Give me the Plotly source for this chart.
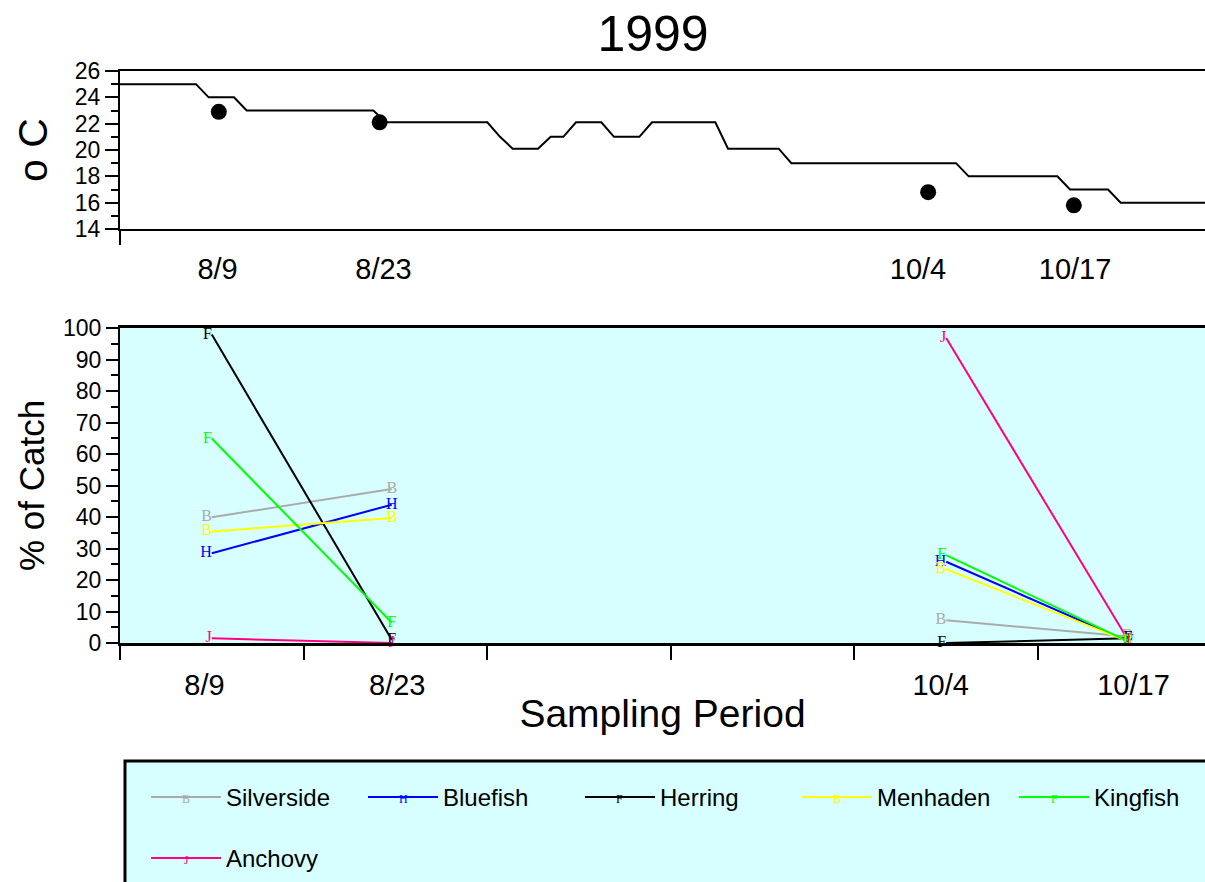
import plotly.graph_objects as go

# ---------------- data ----------------
# daily water temperature (deg C), one value per day starting at day 0 of the axis
temps = [25, 25, 25, 25, 25, 25, 25,
         24, 24, 24,
         23, 23, 23, 23, 23, 23, 23, 23, 23, 23, 23,
         22.1, 22.1, 22.1, 22.1, 22.1, 22.1, 22.1, 22.1, 22.1,
         21,
         20.1, 20.1, 20.1,
         21, 21,
         22.1, 22.1, 22.1,
         21, 21, 21,
         22.1, 22.1, 22.1, 22.1, 22.1, 22.1,
         20.1, 20.1, 20.1, 20.1, 20.1,
         19, 19, 19, 19, 19, 19, 19, 19, 19, 19, 19, 19, 19, 19,
         18, 18, 18, 18, 18, 18, 18, 18,
         17, 17, 17, 17,
         16, 16, 16, 16, 16, 16, 16, 16]
temp_days = list(range(len(temps)))

sample_labels = ["8/9", "8/23", "10/4", "10/17"]
sample_days = [7.8, 20.5, 63.8, 75.3]          # position of samples on the temperature axis
sample_temps = [22.9, 22.1, 16.8, 15.8]
top_label_pos = [7.7, 20.8, 63.0, 75.4]

period_pos = [0.5, 1.48, 4.5, 5.49]            # sampling periods on the catch axis
period_label_pos = [0.46, 1.51, 4.47, 5.52]

species = ["Silverside", "Bluefish", "Herring", "Menhaden", "Kingfish", "Anchovy"]
letters = ["B", "H", "F", "B", "F", "J"]
colors = ["#AAAAAA", "#0000FF", "#000000", "#FFFF00", "#00FF00", "#FF0080"]
silverside = [39.9, 48.9, 7.2, 2.1]
bluefish = [28.5, 43.9, 25.8, 0.5]
herring = [97.9, 1.0, 0.0, 1.5]
menhaden = [35.4, 39.7, 23.4, 0.5]
kingfish = [64.9, 6.5, 27.9, 0.5]
anchovy = [1.5, 0.0, 96.8, 1.0]
catch = [silverside, bluefish, herring, menhaden, kingfish, anchovy]

# ---------------- layout helpers ----------------
W, H = 1205, 882
FONT = "Liberation Sans, Arial, sans-serif"
SERIF = "Liberation Serif, Times New Roman, serif"
CYAN = "#D8FFFF"


def fx(p):
    return p / W


def fy(p):
    return 1 - p / H


fig = go.Figure()

# temperature line and sample points
fig.add_trace(go.Scatter(x=temp_days, y=temps, mode="lines",
                         line=dict(color="black", width=2),
                         xaxis="x", yaxis="y", showlegend=False, hoverinfo="skip"))
fig.add_trace(go.Scatter(x=sample_days, y=sample_temps, mode="markers",
                         marker=dict(color="black", size=16),
                         xaxis="x", yaxis="y", showlegend=False))

# catch lines (gap between the two sampling pairs)
for name, letter, col, vals in zip(species, letters, colors, catch):
    xs = period_pos[:2] + [None] + period_pos[2:]
    ys = vals[:2] + [None] + vals[2:]
    fig.add_trace(go.Scatter(x=xs, y=ys, mode="lines", name=name,
                             line=dict(color=col, width=2),
                             xaxis="x2", yaxis="y2",
                             legend="legend" if name != "Anchovy" else "legend2"))
letter_pos = ["middle left", "middle center", "middle left", "middle center"]
for name, letter, col, vals in zip(species, letters, colors, catch):
    fig.add_trace(go.Scatter(x=period_pos, y=vals, mode="text",
                             text=[letter] * len(vals), textposition=letter_pos,
                             textfont=dict(family=SERIF, size=16, color=col),
                             cliponaxis=False,
                             xaxis="x2", yaxis="y2", showlegend=False, hoverinfo="skip"))

x_dom = [fx(120), 1.0]

# small symbol letters drawn on the legend line samples
leg_x = [186, 403, 620, 837, 1054, 186]
leg_y = [799, 799, 799, 799, 799, 860]
legend_letters = [
    dict(x=fx(lx), y=fy(ly), xref="paper", yref="paper", text=t, showarrow=False,
         font=dict(family=SERIF, size=12, color=c), xanchor="center", yanchor="middle")
    for lx, ly, t, c in zip(leg_x, leg_y, letters, colors)
]

fig.update_layout(
    width=W, height=H,
    margin=dict(l=0, r=0, t=0, b=0, autoexpand=False),
    paper_bgcolor="white", plot_bgcolor="white",
    font=dict(family=FONT, color="black"),
    title=dict(text="1999", x=fx(653), xanchor="center", y=fy(33), yanchor="middle",
               font=dict(size=50, family=FONT, color="black"), automargin=False),
    xaxis=dict(domain=x_dom, range=[0, (W - 120) / 12.667], anchor="y", automargin=False,
               showline=True, linewidth=2, linecolor="black", mirror=True,
               showgrid=False, zeroline=False,
               tickmode="array", tickvals=top_label_pos, ticktext=sample_labels,
               ticks="", tickfont=dict(size=29), ticklabelstandoff=13,
               minor=dict(tickmode="array", tickvals=[0], ticks="outside",
                          ticklen=14, tickwidth=2, tickcolor="black")),
    yaxis=dict(domain=[fy(229), fy(71)], range=[14, 26], anchor="x", automargin=False,
               showline=True, linewidth=2, linecolor="black",
               showgrid=False, zeroline=False,
               tickmode="linear", tick0=14, dtick=2,
               ticks="outside", ticklen=13, tickwidth=2, tickcolor="black",
               tickfont=dict(size=23),
               minor=dict(dtick=1, ticks="outside", ticklen=7, tickwidth=2, tickcolor="black"),
               title=dict(text="o C", font=dict(size=41), standoff=14)),
    xaxis2=dict(domain=x_dom, range=[0, (W - 120) / 183.6], anchor="y2", automargin=False,
                showline=True, linewidth=3, linecolor="black", mirror=True,
                showgrid=False, zeroline=False,
                tickmode="array", tickvals=period_label_pos, ticktext=sample_labels,
                ticks="", tickfont=dict(size=29), ticklabelstandoff=14,
                minor=dict(tickmode="linear", tick0=0, dtick=1, ticks="outside",
                           ticklen=14, tickwidth=2, tickcolor="black"),
                title=dict(text="Sampling Period", font=dict(size=39), standoff=0)),
    yaxis2=dict(domain=[fy(643), fy(328)], range=[0, 100], anchor="x2", automargin=False,
                showline=True, linewidth=2, linecolor="black",
                showgrid=False, zeroline=False,
                tickmode="linear", tick0=0, dtick=10,
                ticks="outside", ticklen=12, tickwidth=2, tickcolor="black",
                tickfont=dict(size=23),
                minor=dict(dtick=5, ticks="outside", ticklen=7, tickwidth=2, tickcolor="black"),
                title=dict(text="% of Catch", font=dict(size=35), standoff=8)),
    legend=dict(orientation="h", x=fx(146), xanchor="left", y=fy(775), yanchor="top",
                bgcolor="rgba(0,0,0,0)", borderwidth=0,
                font=dict(size=24, family=FONT), entrywidth=132, entrywidthmode="pixels",
                itemwidth=70),
    legend2=dict(orientation="h", x=fx(146), xanchor="left", y=fy(836), yanchor="top",
                 bgcolor="rgba(0,0,0,0)", borderwidth=0,
                 font=dict(size=24, family=FONT), itemwidth=70),
    annotations=legend_letters,
    shapes=[
        dict(type="rect", xref="x2 domain", yref="y2 domain", x0=0, x1=1, y0=0, y1=1,
             fillcolor=CYAN, line=dict(width=0), layer="below"),
        dict(type="rect", xref="paper", yref="paper", x0=fx(125), x1=1.01, y0=-0.01, y1=fy(761),
             fillcolor=CYAN, line=dict(color="black", width=3), layer="below"),
    ],
)

fig.write_html("out.html", config={"displayModeBar": False},
               post_script="document.body.style.margin='0';document.body.style.overflow='hidden';")
